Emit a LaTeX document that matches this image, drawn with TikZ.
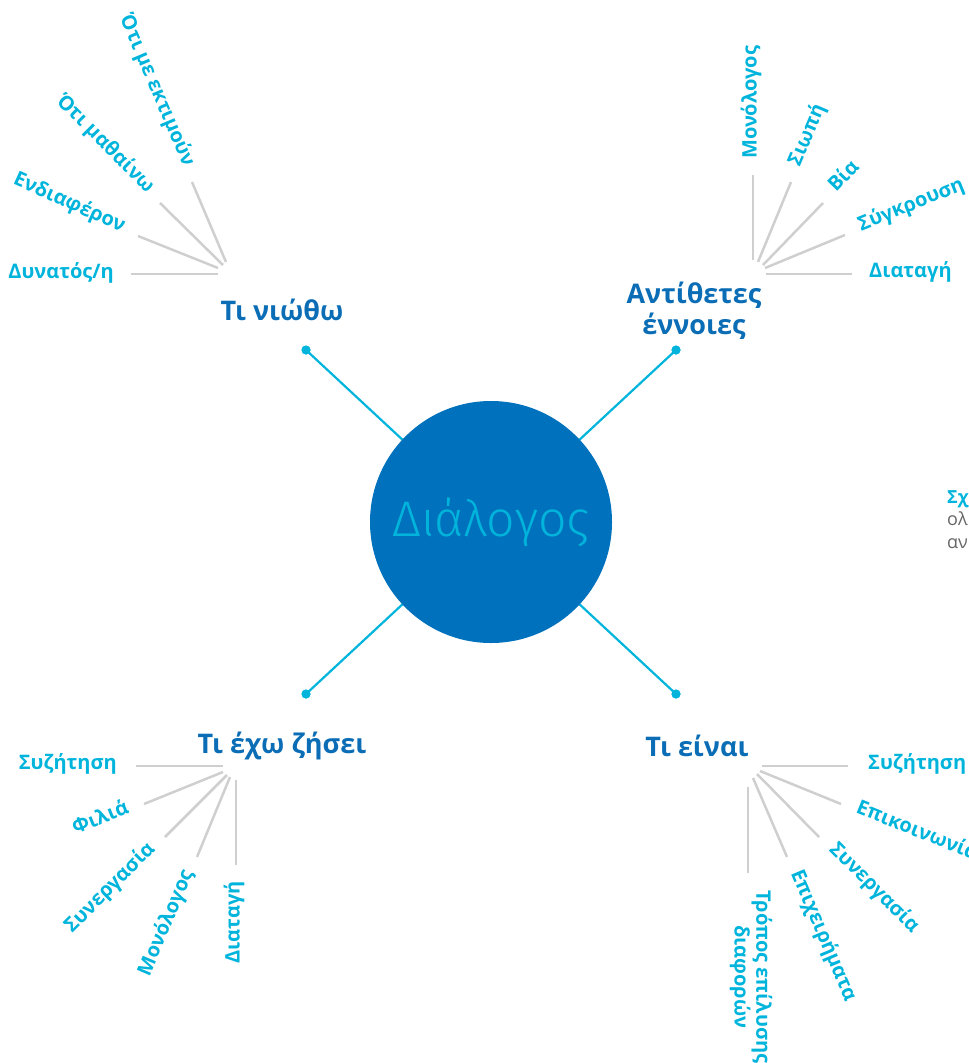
\documentclass[tikz,border=0pt]{standalone}
\usepackage{fontspec}
\setmainfont{Open Sans}
\newfontfamily\lightfont{Fira Sans Light}
\definecolor{hubblue}{HTML}{0A6DB5}
\definecolor{circblue}{HTML}{0071BC}
\definecolor{leafcyan}{HTML}{00B4DC}
\definecolor{fangrey}{HTML}{CFCFCF}
\definecolor{txtgrey}{HTML}{666666}
\begin{document}
\begin{tikzpicture}[x=1pt,y=-1pt,
  leaf/.style={font=\fontsize{20}{20}\selectfont\bfseries, text=leafcyan, inner sep=0pt},
  hub/.style={font=\fontsize{27}{31}\selectfont\bfseries, text=hubblue, align=center, inner sep=0pt},
  fan/.style={draw=fangrey, line width=2.5pt},
  spoke/.style={draw=leafcyan, line width=2.2pt},
  dotnode/.style={circle, fill=leafcyan, minimum size=9pt, inner sep=0pt},
  side/.style={font=\fontsize{18}{20}\selectfont, inner sep=0pt, anchor=mid west}]
\useasboundingbox (0,0) rectangle (969,1063);

% spokes and dots
\node[dotnode] (d1) at (306,350) {};
\node[dotnode] (d2) at (676,350) {};
\node[dotnode] (d3) at (306,694) {};
\node[dotnode] (d4) at (676,694) {};
\coordinate (c0) at (491,522);
\foreach \d in {d1,d2,d3,d4} \draw[spoke] (\d.center) -- (c0);
\node[circle, fill=circblue, minimum size=242pt, inner sep=0pt, text=leafcyan,
      font=\lightfont\fontsize{50}{56}\selectfont] (center) at (c0) {Διάλογος};
\foreach \d in {d1,d2,d3,d4} \node[dotnode] at (\d) {};

% hub labels
\node[hub] (h1) at (282,310) {Τι νιώθω};
\node[hub] (h2) at (694,311) {Αντίθετες\\έννοιες};
\node[hub] (h3) at (282,746) {Τι έχω ζήσει};
\node[hub] (h4) at (697,746) {Τι είναι};

% ---- top-left fan
\coordinate (a1i) at (218,274); \coordinate (a1o) at (131,274);
\coordinate (a2i) at (218,268); \coordinate (a2o) at (138,236);
\coordinate (a3i) at (223,265); \coordinate (a3o) at (160,203);
\coordinate (a4i) at (226,262); \coordinate (a4o) at (192,182);
\foreach \k in {1,2,3,4} \draw[fan] (a\k i) -- (a\k o);
\node[leaf, anchor=mid east] (la1) at (114,276) {Δυνατός/η};
\node[leaf, anchor=mid east, rotate=-24] (la2) at (123,230) {Ενδιαφέρον};
\node[leaf, anchor=mid east, rotate=-45] (la3) at (149,192) {Ότι μαθαίνω};
\node[leaf, anchor=mid east, rotate=-67] (la4) at (186,167) {Ότι με εκτιμούν};

% ---- top-right fan
\coordinate (b1i) at (753,260); \coordinate (b1o) at (753,175);
\coordinate (b2i) at (758,262); \coordinate (b2o) at (791,182);
\coordinate (b3i) at (763,265); \coordinate (b3o) at (823,203);
\coordinate (b4i) at (765,268); \coordinate (b4o) at (845,235);
\coordinate (b5i) at (766,274); \coordinate (b5o) at (852,274);
\foreach \k in {1,...,5} \draw[fan] (b\k i) -- (b\k o);
\node[leaf, anchor=mid west, rotate=90] (lb1) at (754,159) {Μονόλογος};
\node[leaf, anchor=mid west, rotate=67] (lb2) at (797,167) {Σιωπή};
\node[leaf, anchor=mid west, rotate=46] (lb3) at (834,191) {Βία};
\node[leaf, anchor=mid west, rotate=22] (lb4) at (860,229) {Σύγκρουση};
\node[leaf, anchor=mid west] (lb5) at (869,275) {Διαταγή};

% ---- bottom-left fan
\coordinate (c1i) at (223,766); \coordinate (c1o) at (136,766);
\coordinate (c2i) at (223,772); \coordinate (c2o) at (144,804);
\coordinate (c3i) at (227,775); \coordinate (c3o) at (165,837);
\coordinate (c4i) at (230,777); \coordinate (c4o) at (197,857);
\coordinate (c5i) at (236,780); \coordinate (c5o) at (236,865);
\foreach \k in {1,...,5} \draw[fan] (c\k i) -- (c\k o);
\node[leaf, anchor=mid east] (lc1) at (117,767) {Συζήτηση};
\node[leaf, anchor=mid east, rotate=22] (lc2) at (129,810) {Φιλιά};
\node[leaf, anchor=mid east, rotate=45] (lc3) at (154,848) {Συνεργασία};
\node[leaf, anchor=mid east, rotate=67] (lc4) at (191,872) {Μονόλογος};
\node[leaf, anchor=mid east, rotate=90] (lc5) at (237,881) {Διαταγή};

% ---- bottom-right fan
\coordinate (e1i) at (762,766); \coordinate (e1o) at (848,766);
\coordinate (e2i) at (760,771); \coordinate (e2o) at (841,804);
\coordinate (e3i) at (757,774); \coordinate (e3o) at (819,837);
\coordinate (e4i) at (753,778); \coordinate (e4o) at (787,857);
\coordinate (e5i) at (748,787); \coordinate (e5o) at (748,873);
\foreach \k in {1,...,5} \draw[fan] (e\k i) -- (e\k o);
\node[leaf, anchor=mid west] (le1) at (868,767) {Συζήτηση};
\node[leaf, anchor=mid west, rotate=-22] (le2) at (856,810) {Επικοινωνία};
\node[leaf, anchor=mid west, rotate=-45] (le3) at (830,848) {Συνεργασία};
\node[leaf, anchor=mid west, rotate=-67] (le4) at (793,872) {Επιχειρήματα};
\node[leaf, anchor=west, rotate=-90, align=center] (le5) at (751,890) {Τρόπος επίλυσης\\διαφορών};

% ---- clipped side text
\node[side, text=leafcyan, font=\fontsize{18}{20}\selectfont\bfseries] (s1) at (947,501) {Σχ};
\node[side, text=txtgrey] (s2) at (947,523) {ολ};
\node[side, text=txtgrey] (s3) at (947,546) {αν};
\end{tikzpicture}
\end{document}
